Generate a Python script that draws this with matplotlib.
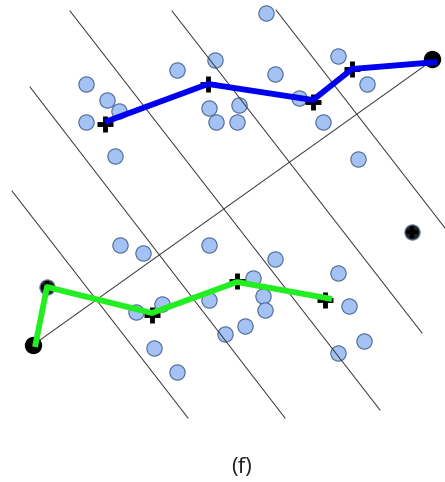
import matplotlib
matplotlib.use("Agg")
import matplotlib.pyplot as plt

# everything in picture pixel coordinates (x right, y down)
W, H = 445, 482

# light blue sample points
pts_x = [266, 215, 177, 338, 275, 367, 86, 107, 119, 86, 209, 239, 216, 237, 299, 323, 115, 358,
         120, 143, 209, 275, 338, 253, 263, 265, 209, 162, 136, 245, 225, 349, 364, 338, 154, 177]
pts_y = [13, 60, 70, 56, 74, 84, 84, 100, 111, 122, 108, 105, 122, 122, 98, 122, 156, 159,
         245, 253, 245, 259, 273, 278, 296, 310, 300, 304, 312, 326, 334, 306, 341, 353, 348, 372]

# thin separating lines (start, end)
sep_lines = [((276, 10), (445, 228)),
             ((172, 11), (422, 333)),
             ((70, 11), (380, 410)),
             ((30, 87), (285, 418)),
             ((12, 191), (188, 418))]
diag = ((33, 345), (430, 62))

# blue path
blue_x = [105, 208, 313, 352, 437]
blue_y = [122, 84, 100, 69, 62]
blue_cross_x = [105, 208, 313, 352]
blue_cross_y = [124, 84, 102, 69]

# green path
green_x = [35, 47, 152, 237, 332]
green_y = [347, 287, 313, 282, 299]
green_cross_x = [152, 237, 325]
green_cross_y = [315, 281, 300]

# black end dots
end_x = [33, 432]
end_y = [345, 59]
lone_x, lone_y = 412, 232

fig = plt.figure(figsize=(W / 100, H / 100), dpi=100)
ax = fig.add_axes([0, 0, 1, 1])
ax.set_xlim(0, W)
ax.set_ylim(H, 0)
ax.axis("off")

ax.plot(pts_x, pts_y, "o", ms=11, mfc="#a4c2f4", mec="#4d6a94", mew=0.8, zorder=2)

for (x0, y0), (x1, y1) in sep_lines + [diag]:
    ax.plot([x0, x1], [y0, y1], color="#333333", lw=0.7, zorder=3)

ax.plot(end_x, end_y, "o", ms=11.5, color="black", zorder=4)
ax.plot(47, 287, "o", ms=11, mfc="#222222", mec="#6a80a8", mew=0.8, zorder=4)
ax.plot(lone_x, lone_y, "o", ms=11, mfc="#222222", mec="#6a80a8", mew=0.8, zorder=4)
ax.plot(lone_x, lone_y, "+", ms=9, color="black", mew=3, zorder=5)
ax.plot(47, 287, "+", ms=9, color="black", mew=3, zorder=5)

ax.plot(blue_cross_x, blue_cross_y, "+", ms=11, color="black", mew=3.5, zorder=5)
ax.plot(green_cross_x, green_cross_y, "+", ms=11, color="black", mew=3.5, zorder=5)

ax.plot(blue_x, blue_y, color="#0000ee", lw=4.2, solid_capstyle="butt", zorder=6)
ax.plot(green_x, green_y, color="#22ee22", lw=4.2, solid_capstyle="butt", zorder=6)

ax.text(241, 468, "(f)", fontsize=16, family=["Open Sans", "DejaVu Sans"],
        ha="center", va="center", color="#222222")

fig.savefig("out.png", dpi=100)
